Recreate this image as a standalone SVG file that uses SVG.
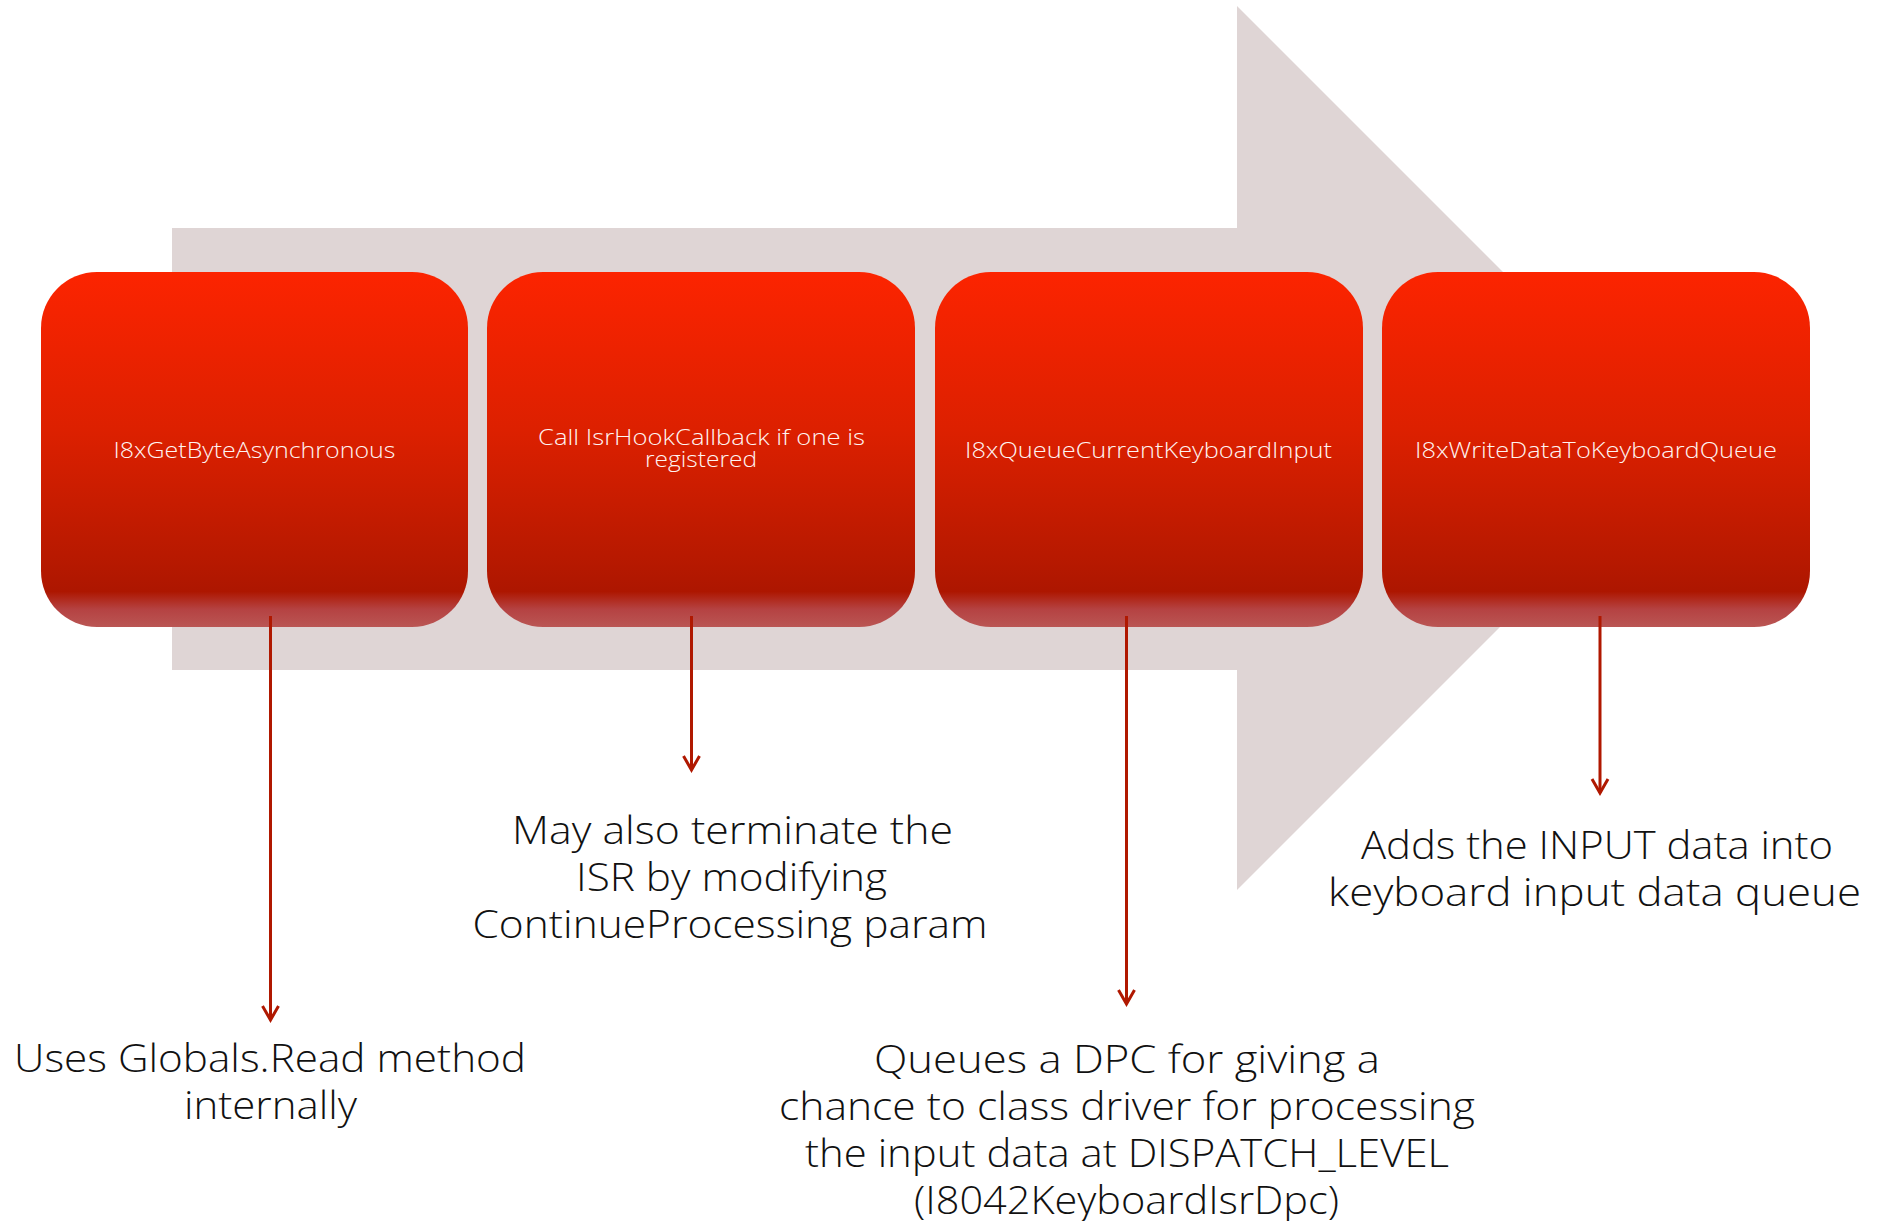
<svg xmlns="http://www.w3.org/2000/svg" width="1885" height="1221" viewBox="0 0 1885 1221">
  <defs>
    <linearGradient id="boxGrad" x1="0" y1="0" x2="0" y2="1">
      <stop offset="0" stop-color="#FC2400"/>
      <stop offset="0.45" stop-color="#DC2000"/>
      <stop offset="0.8" stop-color="#B81900"/>
      <stop offset="0.9" stop-color="#AD1600"/>
      <stop offset="0.95" stop-color="#B54242"/>
      <stop offset="1" stop-color="#BA5654"/>
    </linearGradient>
    <marker id="arr" viewBox="0 0 20 20" refX="17" refY="10" markerWidth="20" markerHeight="20" markerUnits="userSpaceOnUse" orient="auto">
      <path d="M3,2 L17,10 L3,18" fill="none" stroke="#B01800" stroke-width="3"/>
    </marker>
  </defs>
  <style>
    .box { fill: url(#boxGrad); }
    .btxt { font-family: "Open Sans", "DejaVu Sans", sans-serif; font-weight: 300; font-size: 22px; fill: #FFF4F2; text-anchor: middle; }
    .ltxt { font-family: "Open Sans", "DejaVu Sans", sans-serif; font-weight: 300; font-size: 39px; fill: #111111; text-anchor: middle; }
    .conn { stroke: #B01800; stroke-width: 3; fill: none; marker-end: url(#arr); }
  </style>
  <rect width="1885" height="1221" fill="#FFFFFF"/>
  <g id="bg-arrow">
    <polygon points="172,228 1237,228 1237,6 1679,448 1237,890 1237,670 172,670" fill="#DFD5D5"/>
  </g>
  <g id="node1">
    <rect class="box" x="41" y="272" width="427" height="355" rx="56" ry="56"/>
    <text class="btxt" x="254.5" y="458" textLength="282" lengthAdjust="spacingAndGlyphs">I8xGetByteAsynchronous</text>
  </g>
  <g id="node2">
    <rect class="box" x="487" y="272" width="428" height="355" rx="56" ry="56"/>
    <text class="btxt"><tspan x="701.5" y="445" textLength="327" lengthAdjust="spacingAndGlyphs">Call IsrHookCallback if one is</tspan><tspan x="701" y="467" textLength="112" lengthAdjust="spacingAndGlyphs">registered</tspan></text>
  </g>
  <g id="node3">
    <rect class="box" x="935" y="272" width="428" height="355" rx="56" ry="56"/>
    <text class="btxt" x="1148.5" y="458" textLength="367" lengthAdjust="spacingAndGlyphs">I8xQueueCurrentKeyboardInput</text>
  </g>
  <g id="node4">
    <rect class="box" x="1382" y="272" width="428" height="355" rx="56" ry="56"/>
    <text class="btxt" x="1596" y="458" textLength="362" lengthAdjust="spacingAndGlyphs">I8xWriteDataToKeyboardQueue</text>
  </g>
  <g id="connectors">
    <path class="conn" d="M270.5,616 L270.5,1020"/>
    <path class="conn" d="M691.5,616 L691.5,770"/>
    <path class="conn" d="M1126.5,616 L1126.5,1004"/>
    <path class="conn" d="M1600,616 L1600,793"/>
  </g>
  <g id="label1">
    <text class="ltxt"><tspan x="270" y="1072" textLength="512" lengthAdjust="spacingAndGlyphs">Uses Globals.Read method</tspan><tspan x="270.5" y="1119" textLength="173" lengthAdjust="spacingAndGlyphs">internally</tspan></text>
  </g>
  <g id="label2">
    <text class="ltxt"><tspan x="732.5" y="844" textLength="441" lengthAdjust="spacingAndGlyphs">May also terminate the</tspan><tspan x="731.5" y="891" textLength="311" lengthAdjust="spacingAndGlyphs">ISR by modifying</tspan><tspan x="730" y="938" textLength="515" lengthAdjust="spacingAndGlyphs">ContinueProcessing param</tspan></text>
  </g>
  <g id="label3">
    <text class="ltxt"><tspan x="1127" y="1073" textLength="506" lengthAdjust="spacingAndGlyphs">Queues a DPC for giving a</tspan><tspan x="1127" y="1120" textLength="696" lengthAdjust="spacingAndGlyphs">chance to class driver for processing</tspan><tspan x="1127" y="1167" textLength="644" lengthAdjust="spacingAndGlyphs">the input data at DISPATCH_LEVEL</tspan><tspan x="1126.5" y="1214" textLength="425" lengthAdjust="spacingAndGlyphs">(I8042KeyboardIsrDpc)</tspan></text>
  </g>
  <g id="label4">
    <text class="ltxt"><tspan x="1597" y="859" textLength="472" lengthAdjust="spacingAndGlyphs">Adds the INPUT data into</tspan><tspan x="1594.5" y="906" textLength="533" lengthAdjust="spacingAndGlyphs">keyboard input data queue</tspan></text>
  </g>
</svg>
